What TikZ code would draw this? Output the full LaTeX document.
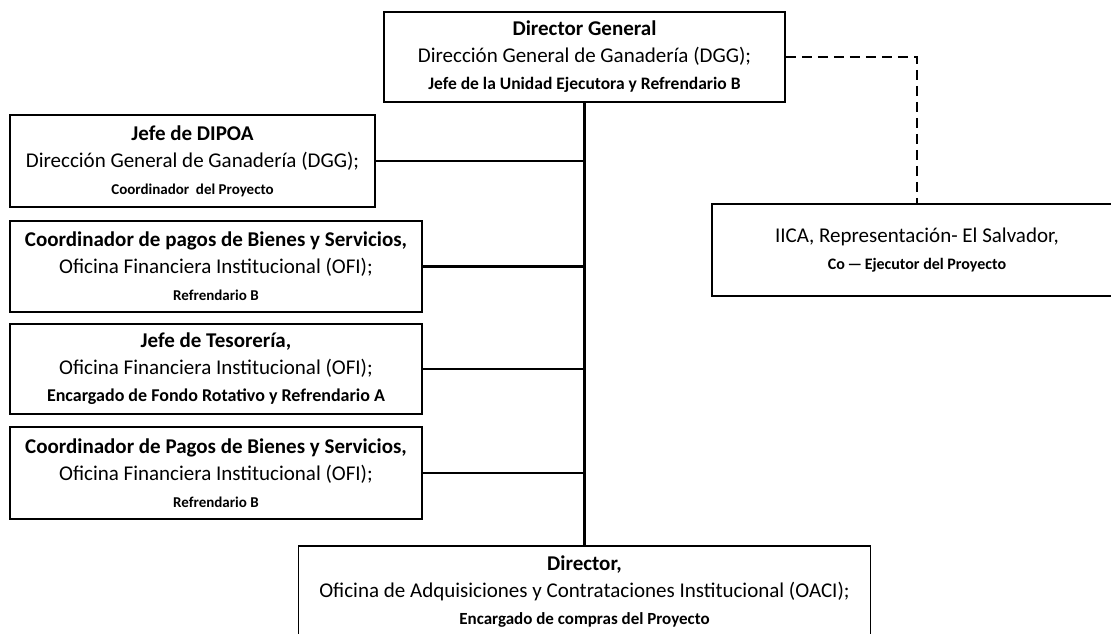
\documentclass[tikz,border=0pt]{standalone}
\usepackage{fontspec}
\setmainfont{Carlito}
\usepackage{tikz}
\tikzstyle{unit} = [rectangle, draw=black, line width=1.6pt, inner sep=0pt, align=center, font=\fontsize{21}{27}\selectfont]
\tikzstyle{line} = [line width=2.2pt]
\tikzstyle{link} = [line width=1.8pt, dash pattern=on 10pt off 6pt]

\begin{document}
\begin{tikzpicture}[x=1pt, y=-1pt]
    \useasboundingbox (0,0) rectangle (1111,633);
    \node (dg) [unit, minimum width=401pt, minimum height=90pt] at (584.5,57) {\textbf{Director General}\\ Dirección General de Ganadería (DGG);\\ \fontsize{17.5}{24}\selectfont\bfseries Jefe de la Unidad Ejecutora y Refrendario B};
    \node (dipoa) [unit, minimum width=365pt, minimum height=92pt] at (192.5,161) {\textbf{Jefe de DIPOA}\\ Dirección General de Ganadería (DGG);\\ \fontsize{15}{22}\selectfont\bfseries Coordinador\ \ del Proyecto};
    \node (pagos) [unit, minimum width=412pt, minimum height=91pt] at (216,266.5) {\textbf{Coordinador de pagos de Bienes y Servicios,}\\ Oficina Financiera Institucional (OFI);\\ \fontsize{15}{22}\selectfont\bfseries Refrendario B};
    \node (tesoreria) [unit, minimum width=412pt, minimum height=90pt] at (216,369) {\textbf{Jefe de Tesorería,}\\ Oficina Financiera Institucional (OFI);\\ \fontsize{18}{25}\selectfont\bfseries Encargado de Fondo Rotativo y Refrendario A};
    \node (pagos_b) [unit, minimum width=412pt, minimum height=92pt] at (216,473) {\textbf{Coordinador de Pagos de Bienes y Servicios,}\\ Oficina Financiera Institucional (OFI);\\ \fontsize{15}{22}\selectfont\bfseries Refrendario B};
    \node (iica) [unit, minimum width=410pt, minimum height=92pt] at (917,250) {IICA, Representación- El Salvador,\\ \fontsize{16}{24}\selectfont\bfseries Co\,—\,Ejecutor del Proyecto};
    \node (oaci) [unit, minimum width=572pt, minimum height=92pt] at (584.5,592) {\textbf{Director,}\\ Oficina de Adquisiciones y Contrataciones Institucional (OACI);\\ \fontsize{17}{24}\selectfont\bfseries Encargado de compras del Proyecto};

    \draw [line] (dg) -- (oaci);
    \draw [line] (dipoa.east) -- (dipoa.east -| dg.south);
    \draw [line] (pagos.east) -- (pagos.east -| dg.south);
    \draw [line] (tesoreria.east) -- (tesoreria.east -| dg.south);
    \draw [line] (pagos_b.east) -- (pagos_b.east -| dg.south);
    \draw [link] (dg.east) -| (iica.north);
\end{tikzpicture}
\end{document}
